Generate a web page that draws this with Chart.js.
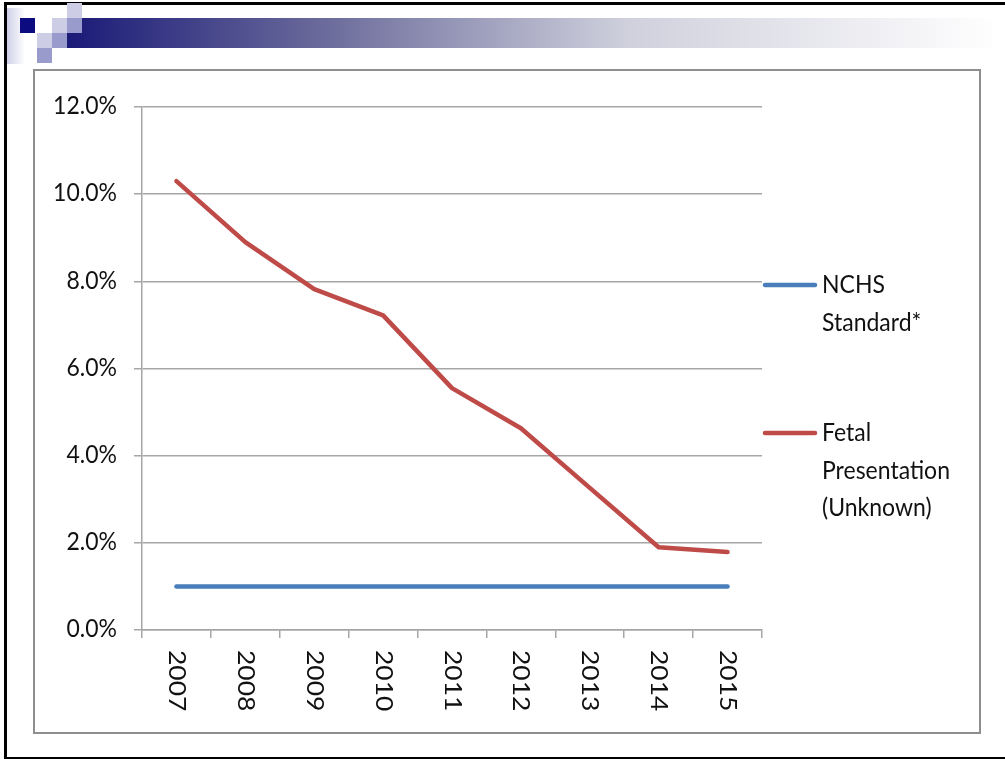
<!DOCTYPE html>
<html>
<head>
<meta charset="utf-8">
<script src="https://cdn.jsdelivr.net/npm/chart.js@4/dist/chart.umd.min.js"></script>
<style>
body{margin:0;background:#fff;width:1005px;height:759px;overflow:hidden;position:relative;}
.frame{position:absolute;left:4px;top:2px;width:1100px;height:752px;border:3px solid #000;}
.sq{position:absolute;width:15px;height:15px;}
.lt{background:#cdcde6;}
.md{background:#9a9bcd;}
.dk{background:#0c0c80;}
.bar{position:absolute;left:67px;top:18px;width:932px;height:30px;background:linear-gradient(to right,#1a1a78 0%,#6c6c9c 28%,#cfd0dc 60%,#ffffff 100%);}
.fade{position:absolute;left:7px;top:8px;width:18px;height:56px;background:linear-gradient(to right,#d0d0ea,#ffffff);}
.box{position:absolute;left:33px;top:69px;width:944px;height:661px;border:2px solid #8e8e8e;}
#c{position:absolute;left:0;top:0;}
</style>
</head>
<body>
<div class="frame"></div>
<div class="fade"></div>
<div class="bar"></div>
<div class="sq lt" style="left:67px;top:3px"></div>
<div class="sq dk" style="left:20px;top:18px"></div>
<div class="sq lt" style="left:52px;top:18px"></div>
<div class="sq md" style="left:67px;top:18px"></div>
<div class="sq lt" style="left:37px;top:33px"></div>
<div class="sq md" style="left:52px;top:33px"></div>
<div class="sq md" style="left:37px;top:48px"></div>
<div class="box"></div>
<canvas id="c" width="1005" height="759"></canvas>
<script>
const years=["2007","2008","2009","2010","2011","2012","2013","2014","2015"];
const nchs=[1.0,1.0,1.0,1.0,1.0,1.0,1.0,1.0,1.0];
const fetal=[10.3,8.9,7.82,7.22,5.55,4.63,3.26,1.9,1.79];
const yTicks=[0,2,4,6,8,10,12];
const legendLines=[["NCHS","Standard*"],["Fetal","Presentation","(Unknown)"]];

const fontFam="Lato, 'Open Sans', sans-serif";
const gridCol="#a6a6a6";

// draws tick labels (stretched like the slide) and the wrapped legend
const textPlugin={
  id:"texts",
  afterDraw(chart){
    const ctx=chart.ctx;
    const xs=chart.scales.x, ys=chart.scales.y;
    ctx.save();
    ctx.fillStyle="#111";
    ctx.font="23px "+fontFam;
    // y labels
    ctx.textAlign="right";
    ctx.textBaseline="middle";
    yTicks.forEach(v=>{
      let y=ys.getPixelForValue(v);
      ctx.save();
      ctx.translate(117,y-1);
      ctx.scale(1,1.12);
      ctx.fillText(v.toFixed(1)+"%",0,0);
      ctx.restore();
    });
    // x labels, rotated clockwise
    ctx.textAlign="left";
    years.forEach((t,i)=>{
      let x=xs.getPixelForValue(i);
      ctx.save();
      ctx.translate(x,650);
      ctx.rotate(Math.PI/2);
      ctx.scale(1.15,1);
      ctx.fillText(t,0,0);
      ctx.restore();
    });
    // legend
    const tops=[285,433];
    chart.data.datasets.forEach((ds,k)=>{
      let y=tops[k];
      ctx.strokeStyle=ds.borderColor;
      ctx.lineWidth=4.5;
      ctx.lineCap="round";
      ctx.beginPath();
      ctx.moveTo(765,y);
      ctx.lineTo(815,y);
      ctx.stroke();
      legendLines[k].forEach((s,j)=>{
        ctx.save();
        ctx.translate(822,y+j*37.5);
        ctx.scale(1,1.12);
        ctx.fillText(s,0,0);
        ctx.restore();
      });
    });
    ctx.restore();
  }
};

new Chart(document.getElementById("c"),{
  type:"line",
  data:{
    labels:years,
    datasets:[
      {label:"NCHS Standard*",data:nchs,borderColor:"#4a7ebb",borderWidth:4.5,pointRadius:0,borderCapStyle:"round",borderJoinStyle:"round",tension:0},
      {label:"Fetal Presentation (Unknown)",data:fetal,borderColor:"#be4b48",borderWidth:4.5,pointRadius:0,borderCapStyle:"round",borderJoinStyle:"round",tension:0}
    ]
  },
  options:{
    responsive:false,
    animation:false,
    devicePixelRatio:1,
    layout:{padding:{left:0,top:107,right:243,bottom:109}},
    plugins:{legend:{display:false},tooltip:{enabled:false}},
    scales:{
      x:{
        offset:true,
        ticks:{display:false},
        grid:{drawOnChartArea:false,drawTicks:true,tickLength:8,offset:true,color:gridCol,lineWidth:1.5},
        border:{display:true,color:gridCol,width:1.5},
        afterFit:s=>{s.height=20;}
      },
      y:{
        min:0,max:12,
        ticks:{display:false,stepSize:2},
        grid:{color:gridCol,lineWidth:1.5,tickLength:8,drawTicks:true},
        border:{display:true,color:gridCol,width:1.5},
        afterFit:s=>{s.width=142;}
      }
    }
  },
  plugins:[textPlugin]
});
</script>
</body>
</html>
